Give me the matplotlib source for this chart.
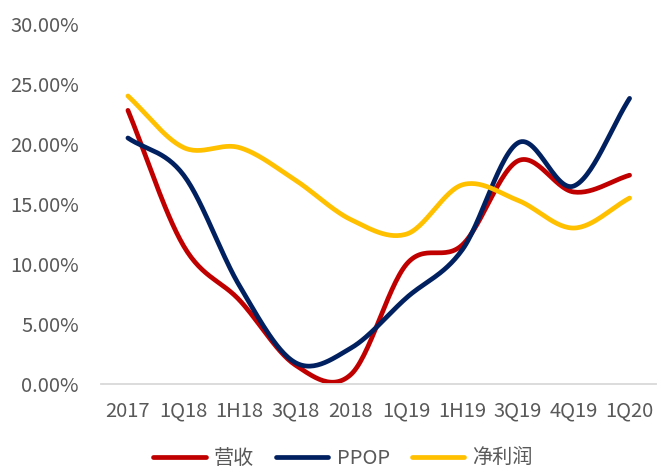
import numpy as np
import matplotlib
matplotlib.use('Agg')
from matplotlib import pyplot as plt

plt.rcParams['font.family'] = ['Noto Sans CJK SC', 'DejaVu Sans']

periods = ['2017', '1Q18', '1H18', '3Q18', '2018', '1Q19', '1H19', '3Q19', '4Q19', '1Q20']
revenue = [22.8, 11.5, 7.0, 1.6, 0.8, 10.0, 11.6, 18.6, 16.0, 17.4]
ppop = [20.5, 17.4, 8.2, 1.8, 3.0, 7.2, 11.2, 20.1, 16.5, 23.8]
net_profit = [24.0, 19.7, 19.7, 17.0, 13.7, 12.5, 16.6, 15.3, 13.0, 15.5]


def smooth(y, n=30):
    # Catmull-Rom style smoothing, like excel "smoothed line"
    y = np.asarray(y, float)
    x = np.arange(len(y), dtype=float)
    px = np.concatenate([[2 * x[0] - x[1]], x, [2 * x[-1] - x[-2]]])
    py = np.concatenate([[2 * y[0] - y[1]], y, [2 * y[-1] - y[-2]]])
    xs, ys = [], []
    t = np.linspace(0, 1, n, endpoint=False)
    for i in range(1, len(px) - 2):
        p0, p1, p2, p3 = py[i - 1], py[i], py[i + 1], py[i + 2]
        q0, q1, q2, q3 = px[i - 1], px[i], px[i + 1], px[i + 2]
        for arr, a0, a1, a2, a3 in ((ys, p0, p1, p2, p3), (xs, q0, q1, q2, q3)):
            arr.extend(0.5 * (2 * a1 + (-a0 + a2) * t + (2 * a0 - 5 * a1 + 4 * a2 - a3) * t ** 2
                              + (-a0 + 3 * a1 - 3 * a2 + a3) * t ** 3))
    xs.append(x[-1])
    ys.append(y[-1])
    return np.array(xs), np.array(ys)


fig = plt.figure(figsize=(6.57, 4.69), dpi=100)
ax = fig.add_axes([0.154, 0.181, 0.845, 0.768])

for vals, col, lab in ((revenue, '#C00000', '营收'), (ppop, '#002060', 'PPOP'),
                       (net_profit, '#FFC000', '净利润')):
    sx, sy = smooth(vals)
    ax.plot(sx, sy, color=col, lw=3.4, label=lab, solid_capstyle='round')

ax.set_xlim(-0.48, 9.48)
ax.set_ylim(0, 30)
ax.set_yticks(np.arange(0, 31, 5))
ax.set_yticklabels([f'{v:.2f}%' for v in range(0, 31, 5)])
ax.set_xticks(range(len(periods)))
ax.set_xticklabels(periods)
ax.tick_params(length=0, labelsize=14.5, colors='#595959')
ax.tick_params(axis='x', pad=12)
ax.tick_params(axis='y', pad=16)
for s in ['top', 'right', 'left']:
    ax.spines[s].set_visible(False)
ax.spines['bottom'].set_color('#D9D9D9')
ax.spines['bottom'].set_linewidth(1.3)

leg = fig.legend(loc='center', bbox_to_anchor=(0.522, 0.022), ncol=3, frameon=False,
                 fontsize=14.5, handlelength=2.6, columnspacing=1.1, handletextpad=0.4)
for t in leg.get_texts():
    t.set_color('#595959')

fig.savefig('out.png', dpi=100)
